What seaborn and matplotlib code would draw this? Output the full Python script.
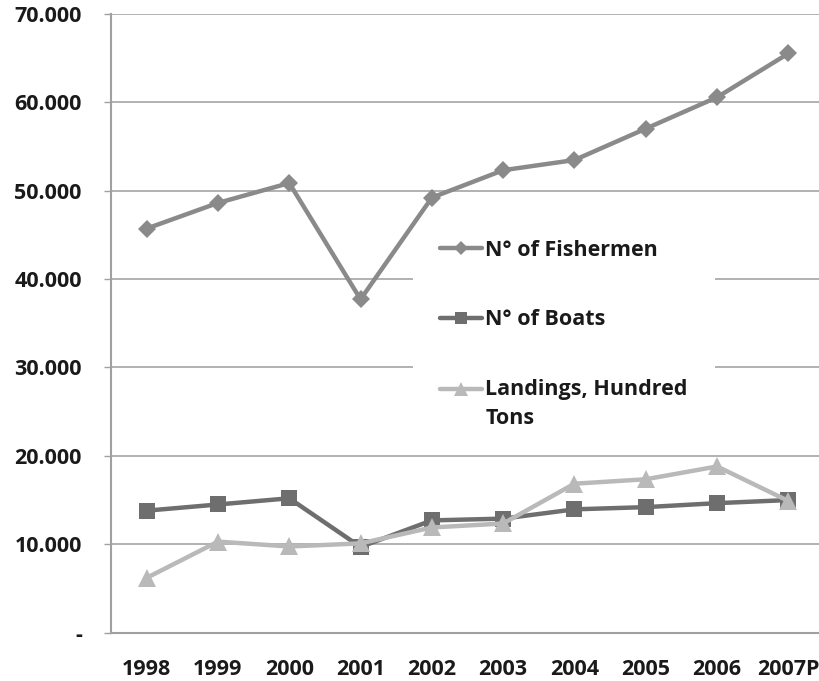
import matplotlib
matplotlib.use("Agg")
import matplotlib.pyplot as plt
import seaborn as sns
import pandas as pd
import numpy as np
from matplotlib.ticker import FixedLocator, FuncFormatter
from matplotlib.lines import Line2D
from matplotlib.patches import Rectangle
from matplotlib.legend_handler import HandlerLine2D

years = ["1998", "1999", "2000", "2001", "2002", "2003", "2004", "2005", "2006", "2007P"]
fishermen = [45700, 48600, 50850, 37700, 49200, 52300, 53450, 57000, 60550, 65500]
boats = [13800, 14500, 15200, 9700, 12700, 12900, 13950, 14200, 14650, 15000]
landings = [6200, 10300, 9750, 10100, 11900, 12350, 16850, 17350, 18800, 14900]
series_names = ["N° of Fishermen", "N° of Boats", "Landings, Hundred\nTons"]

rows = []
for name, vals in zip(series_names, [fishermen, boats, landings]):
    for i, (y, v) in enumerate(zip(years, vals)):
        rows.append({"idx": i, "year": y, "value": v, "series": name})
df = pd.DataFrame(rows)

sns.set_style("white")
FONT = ["Open Sans", "DejaVu Sans"]
plt.rcParams["font.family"] = FONT
plt.rcParams["font.weight"] = "bold"
FS = 15.5

colors = {series_names[0]: "#8a8a8a", series_names[1]: "#6e6e6e", series_names[2]: "#b9b9b9"}
markers = {series_names[0]: "D", series_names[1]: "s", series_names[2]: "^"}
msizes = {series_names[0]: 9, series_names[1]: 11, series_names[2]: 12.5}

fig = plt.figure(figsize=(8.19, 6.81), dpi=100)
W, H = 819, 681
left, right, top, bottom = 111, 824, 13.7, 632.7
ax = fig.add_axes([left / W, 1 - bottom / H, (right - left) / W, (bottom - top) / H])

for name in series_names:
    sub = df[df["series"] == name]
    sns.lineplot(data=sub, x="idx", y="value", ax=ax, color=colors[name],
                 linewidth=3.2, marker=markers[name], markersize=msizes[name],
                 markeredgewidth=0, label=name, legend=False, zorder=3, clip_on=False)

ax.set_xlim(-0.5, 9.5)
ax.set_ylim(0, 70000)
ax.set_yticks(np.arange(0, 70001, 10000))
ax.yaxis.grid(True, color="#ababab", linewidth=1.3)
ax.set_axisbelow(True)
ax.yaxis.set_major_formatter(FuncFormatter(lambda v, p: "-" if v == 0 else f"{int(v):,}".replace(",", ".")))

ax.xaxis.set_major_locator(FixedLocator(range(len(years))))
ax.set_xticklabels(years)
ax.xaxis.set_minor_locator(FixedLocator(np.arange(-0.5, 9.6, 1.0)))
ax.tick_params(axis="x", which="major", length=0, pad=19, labelsize=FS)
ax.tick_params(axis="x", which="minor", length=5, width=1.0, color="#a0a0a0", direction="out")
ax.tick_params(axis="y", which="major", length=5, width=1.0, color="#a0a0a0", direction="out",
               pad=16, labelsize=FS, left=True)
for lab in ax.get_xticklabels() + ax.get_yticklabels():
    lab.set_fontweight("bold")
    lab.set_color("#1a1a1a")

for s in ["top", "right"]:
    ax.spines[s].set_visible(False)
for s in ["left", "bottom"]:
    ax.spines[s].set_color("#a0a0a0")
    ax.spines[s].set_linewidth(1.5)
ax.set_xlabel("")
ax.set_ylabel("")

# white legend area (covers gridlines but not the data lines), pixel box x 413-715, y 220-440
lx0, ly0, lx1, ly1 = 413, 220, 715, 440
ax.add_patch(Rectangle((lx0 / W, 1 - ly1 / H), (lx1 - lx0) / W, (ly1 - ly0) / H,
                       transform=fig.transFigure, facecolor="white", edgecolor="none",
                       zorder=2, clip_on=False))


class ShiftHandler(HandlerLine2D):
    def __init__(self, shift, **kw):
        super().__init__(**kw)
        self.shift = shift

    def create_artists(self, legend, orig_handle, xdescent, ydescent, width, height, fontsize, trans):
        arts = super().create_artists(legend, orig_handle, xdescent, ydescent, width, height, fontsize, trans)
        for a in arts:
            a.set_ydata(np.asarray(a.get_ydata(), dtype=float) + self.shift)
        return arts


handles = [Line2D([0], [0], color=colors[n], linewidth=3.2, marker=markers[n],
                  markersize=msizes[n] * 0.78, markeredgewidth=0) for n in series_names]
leg = fig.legend(handles, series_names, loc="upper left",
                 bbox_to_anchor=(440 / W, 1 - 240 / H), bbox_transform=fig.transFigure,
                 frameon=False, handlelength=1.95, handletextpad=0.15, labelspacing=2.25,
                 borderpad=0, borderaxespad=0,
                 handler_map={handles[2]: ShiftHandler(11.2)},
                 prop={"family": FONT, "weight": "bold", "size": FS})
for t in leg.get_texts():
    t.set_color("#1a1a1a")
    t.set_linespacing(1.5)
leg.set_zorder(5)

fig.savefig("out.png", dpi=100)
